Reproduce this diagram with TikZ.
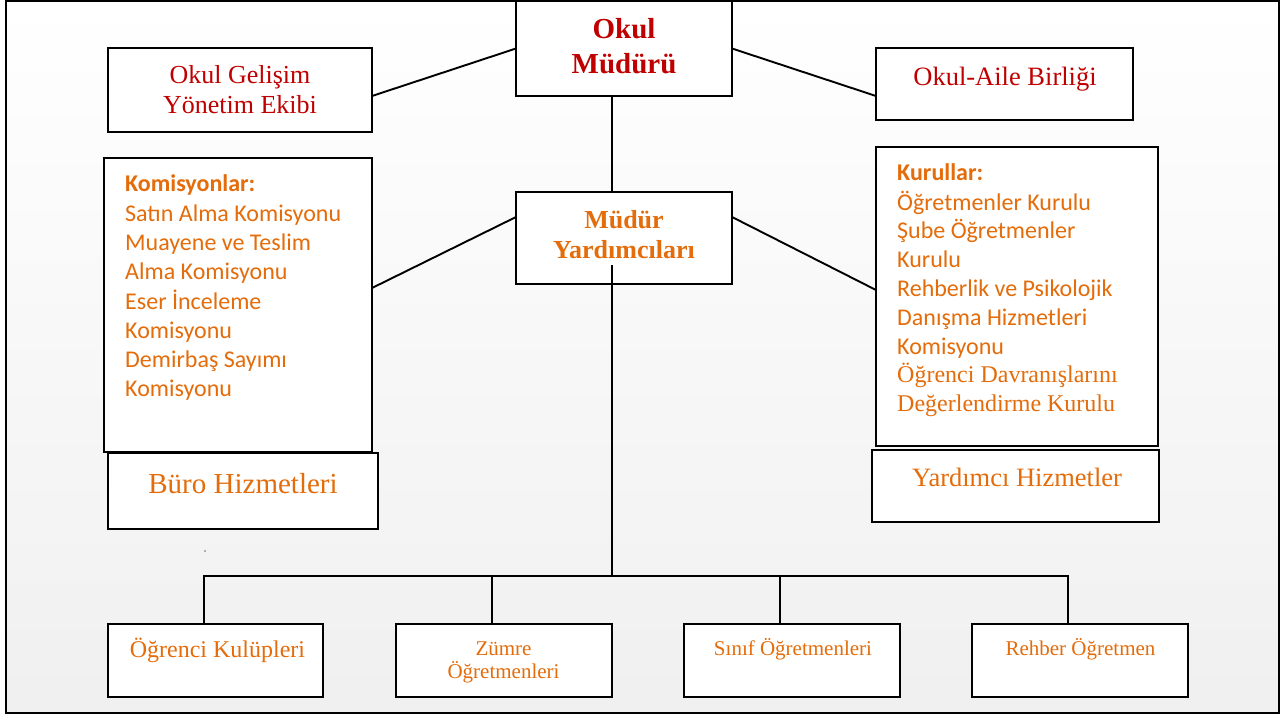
\documentclass[tikz,border=0pt]{standalone}
\usepackage{fontspec}
\setmainfont{Liberation Serif}
\newfontfamily\calibrifont{Carlito}
\definecolor{dred}{HTML}{C00000}
\definecolor{orng}{HTML}{E46C0A}
\begin{document}
\begin{tikzpicture}[x=1pt,y=-1pt,
  box/.style={draw=black, line width=2pt, fill=white, inner sep=0pt, outer sep=0pt},
  conn/.style={line width=1.9pt},
  txt/.style={anchor=base, inner sep=0pt},
  ltxt/.style={anchor=base west, inner sep=0pt, text=orng, font=\calibrifont\fontsize{24}{29}\selectfont}]
\useasboundingbox (0,0) rectangle (1281,715);
\shade[top color=white, bottom color=black!6] (6,1) rectangle (1279,713);
% boxes
\node[box, minimum width=216pt, minimum height=95pt] (mudur) at (624,48.5) {};
\node[box, minimum width=264pt, minimum height=84pt] (gel) at (240,90) {};
\node[box, minimum width=257pt, minimum height=72pt] (aile) at (1004.5,84) {};
\node[box, minimum width=216pt, minimum height=92pt] (yard) at (624,238) {};
\node[box, minimum width=268pt, minimum height=294pt] (kom) at (238,305) {};
\node[box, minimum width=270pt, minimum height=76pt] (buro) at (243,491) {};
\node[box, minimum width=282pt, minimum height=299pt] (kur) at (1017,296.5) {};
\node[box, minimum width=287pt, minimum height=72pt] (yardh) at (1015.5,486) {};
\node[box, minimum width=215pt, minimum height=73pt] (ogr) at (215.5,660.5) {};
\node[box, minimum width=216pt, minimum height=73pt] (zum) at (504,660.5) {};
\node[box, minimum width=216pt, minimum height=73pt] (sinif) at (792,660.5) {};
\node[box, minimum width=216pt, minimum height=73pt] (rehber) at (1080,660.5) {};
% connectors
\draw[conn] ([yshift=-6pt]gel.east) -- (mudur.west);
\draw[conn] (mudur.east) -- ([yshift=-12pt]aile.west);
\draw[conn] ([xshift=-12pt]mudur.south) -- ([xshift=-12pt]yard.north);
\draw[conn] ([yshift=21pt]yard.west) -- ([yshift=17pt]kom.east);
\draw[conn] ([yshift=21pt]yard.east) -- ([yshift=6.5pt]kur.west);
\coordinate (ys) at (612,265);
\coordinate (bus) at (612,576);
\coordinate (ogrtop) at ([xshift=-11.5pt]ogr.north);
\coordinate (zumtop) at ([xshift=-12pt]zum.north);
\coordinate (sintop) at ([xshift=-12pt]sinif.north);
\coordinate (rehtop) at ([xshift=-12pt]rehber.north);
\draw[conn] (ys) -- (bus);
\draw[conn] (ogrtop) -- (ogrtop |- bus) -- (rehtop |- bus) -- (rehtop);
\draw[conn] (zumtop) -- (zumtop |- bus);
\draw[conn] (sintop) -- (sintop |- bus);
% texts
\node[txt, text=dred, font=\bfseries\fontsize{29}{35}\selectfont] (t1a) at (624,38) {Okul};
\node[txt, text=dred, font=\bfseries\fontsize{29}{35}\selectfont] (t1b) at (624,73) {Müdürü};
\node[txt, text=dred, font=\fontsize{26}{30}\selectfont] (t2a) at (240,83) {Okul Gelişim};
\node[txt, text=dred, font=\fontsize{26}{30}\selectfont] (t2b) at (240,113) {Yönetim Ekibi};
\node[txt, text=dred, font=\fontsize{26.5}{30}\selectfont] (t3) at (1005,85) {Okul-Aile Birliği};
\node[txt, text=orng, font=\bfseries\fontsize{26}{30}\selectfont] (t4a) at (624,228) {Müdür};
\node[txt, text=orng, font=\bfseries\fontsize{26}{30}\selectfont] (t4b) at (624,258) {Yardımcıları};
\node[ltxt, font=\calibrifont\bfseries\fontsize{24}{29}\selectfont] (khead) at (125,191.7) {Komisyonlar:};
\foreach \t [count=\i from 0] in {Satın Alma Komisyonu, Muayene ve Teslim, Alma Komisyonu, Eser İnceleme, Komisyonu, Demirbaş Sayımı, Komisyonu}
  \node[ltxt] (k\i) at (125,{221.7+29.1*\i}) {\t};
\node[ltxt, font=\calibrifont\bfseries\fontsize{24}{29}\selectfont] (khead2) at (897,180.5) {Kurullar:};
\foreach \t [count=\i from 0] in {Öğretmenler Kurulu, Şube Öğretmenler, Kurulu, Rehberlik ve Psikolojik, Danışma Hizmetleri, Komisyonu}
  \node[ltxt] (r\i) at (897,{210+28.8*\i}) {\t};
\node[ltxt, font=\fontsize{24}{29}\selectfont] (r6) at (897,382.8) {Öğrenci Davranışlarını};
\node[ltxt, font=\fontsize{24}{29}\selectfont] (r7) at (897,411.6) {Değerlendirme Kurulu};
\node[txt, text=orng, font=\fontsize{29}{33}\selectfont] (t5) at (243,493) {Büro Hizmetleri};
\node[txt, text=orng, font=\fontsize{26.5}{30}\selectfont] (t6) at (1017,486.5) {Yardımcı Hizmetler};
\node[txt, text=orng, font=\fontsize{24}{28}\selectfont] (t7) at (217.5,657) {Öğrenci Kulüpleri};
\node[txt, text=orng, font=\fontsize{21}{24}\selectfont] (t8a) at (503.5,655) {Zümre};
\node[txt, text=orng, font=\fontsize{21}{24}\selectfont] (t8b) at (503.5,678) {Öğretmenleri};
\node[txt, text=orng, font=\fontsize{21}{24}\selectfont] (t9) at (793,655) {Sınıf Öğretmenleri};
\node[txt, text=orng, font=\fontsize{21}{24}\selectfont] (t10) at (1080.5,655) {Rehber Öğretmen};
\node[circle, fill=black!60, inner sep=0pt, minimum size=1.6pt] (dot) at (205,551) {};
\draw[line width=2.4pt] (6,1) rectangle (1279,713);
\end{tikzpicture}
\end{document}
